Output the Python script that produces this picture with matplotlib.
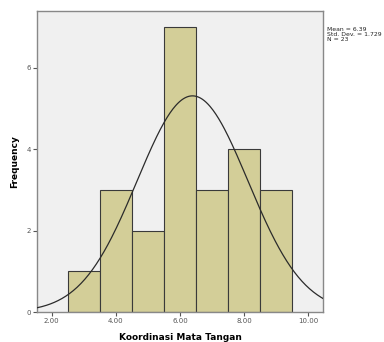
import numpy as np
import matplotlib
matplotlib.use("Agg")
import matplotlib.pyplot as plt

# histogram data
bin_edges = [2.5, 3.5, 4.5, 5.5, 6.5, 7.5, 8.5, 9.5]
counts = [1, 3, 2, 7, 3, 4, 3]
mean = 6.39
std = 1.729
n = 23
x_ticks = [2, 4, 6, 8, 10]
x_tick_labels = ["2.00", "4.00", "6.00", "8.00", "10.00"]
y_ticks = [0, 2, 4, 6]

fig = plt.figure(figsize=(3.84, 3.42), dpi=100)
ax = fig.add_axes([0.0964, 0.0877, 0.7447, 0.8801])
ax.set_facecolor("#F0F0F0")

lefts = bin_edges[:-1]
widths = np.diff(bin_edges)
ax.bar(lefts, counts, width=widths, align="edge",
       color="#D3CE98", edgecolor="#3a3a3a", linewidth=0.8, zorder=2)

# normal curve scaled to counts
bw = widths[0]
xs = np.linspace(1.54, 10.46, 300)
ys = n * bw / (std * np.sqrt(2 * np.pi)) * np.exp(-0.5 * ((xs - mean) / std) ** 2)
ax.plot(xs, ys, color="#2b2b2b", linewidth=0.9, zorder=3)

ax.set_xlim(1.54, 10.46)
ax.set_ylim(0, 7.39)
ax.set_xticks(x_ticks)
ax.set_xticklabels(x_tick_labels)
ax.set_yticks(y_ticks)
ax.tick_params(labelsize=5, colors="#555555", length=3, width=0.8, pad=1.5)
for s in ax.spines.values():
    s.set_color("#888888")
    s.set_linewidth(1.0)

ax.set_xlabel("Koordinasi Mata Tangan", fontsize=6.5, fontweight="bold", labelpad=6)
ax.set_ylabel("Frequency", fontsize=6.5, fontweight="bold", labelpad=5)

fig.text(327 / 384, 1 - 27 / 342,
         "Mean = %.2f\nStd. Dev. = %.3f\nN = %d" % (mean, std, n),
         fontsize=4.4, va="top", ha="left", color="#222222", linespacing=0.95)

plt.savefig("out.png", dpi=100)
